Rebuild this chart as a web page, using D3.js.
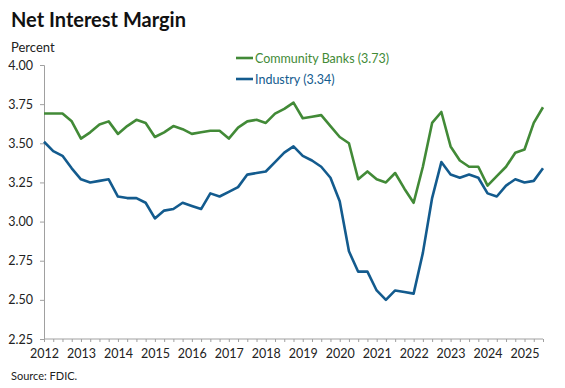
<!DOCTYPE html>
<html><head><meta charset="utf-8">
<script src="https://cdn.jsdelivr.net/npm/d3@7"></script>
<style>
body{margin:0;background:#fff;}
svg{display:block;font-family:Lato,"Noto Sans",sans-serif;}
</style></head>
<body><svg id="c" width="565" height="388"></svg>
<script>
const years = [2012,2013,2014,2015,2016,2017,2018,2019,2020,2021,2022,2023,2024,2025];
const yTicks = [2.25,2.50,2.75,3.00,3.25,3.50,3.75,4.00];
const community = [3.69,3.69,3.69,3.64,3.53,3.57,3.62,3.64,3.56,3.61,3.65,3.63,3.54,3.57,3.61,3.59,
  3.56,3.57,3.58,3.58,3.53,3.60,3.64,3.65,3.63,3.69,3.72,3.76,3.66,3.67,3.68,3.61,
  3.54,3.50,3.27,3.32,3.27,3.25,3.31,3.21,3.12,3.35,3.63,3.70,3.48,3.39,3.35,3.35,
  3.23,3.29,3.35,3.44,3.46,3.63,3.73];
const industry = [3.51,3.45,3.42,3.34,3.27,3.25,3.26,3.27,3.16,3.15,3.15,3.12,3.02,3.07,3.08,3.12,
  3.10,3.08,3.18,3.16,3.19,3.22,3.30,3.31,3.32,3.38,3.44,3.48,3.42,3.39,3.35,3.28,
  3.13,2.81,2.68,2.68,2.56,2.50,2.56,2.55,2.54,2.80,3.15,3.38,3.30,3.28,3.30,3.28,
  3.18,3.16,3.23,3.27,3.25,3.26,3.34];
const seriesNames = ["Community Banks (3.73)","Industry (3.34)"];
const colors = ["#428a37","#135b8e"];

const quarters = [];
years.forEach(y => [1,2,3,4].forEach(q => quarters.push(y + " Q" + q)));
const qs = quarters.slice(0, community.length);

const svg = d3.select("#c");
const L = 44, R = 543, T = 65, B = 339;
const x = d3.scalePoint().domain(qs).range([L, R]);
const y = d3.scaleLinear().domain([2.25, 4.00]).range([B, T]);

svg.append("text").attr("x", 11).attr("y", 27).attr("font-size", 20).attr("font-weight", 700)
  .attr("fill", "#111").text("Net Interest Margin");
svg.append("text").attr("x", 11).attr("y", 52).attr("font-size", 13).attr("fill", "#222").text("Percent");

// y axis
const ya = svg.append("g").attr("transform", `translate(${L},0)`)
  .call(d3.axisLeft(y).tickValues(yTicks).tickFormat(d3.format(".2f")).tickSize(4).tickPadding(7));
ya.select(".domain").attr("stroke", "#a0a0a0");
ya.selectAll(".tick line").attr("stroke", "#a0a0a0");
ya.selectAll(".tick text").attr("font-size", 12.5).attr("fill", "#222").attr("font-family", "Lato,sans-serif");

// x axis
const xa = svg.append("g").attr("transform", `translate(0,${B})`)
  .call(d3.axisBottom(x).tickSize(3).tickFormat(d => d.endsWith("Q1") ? d.slice(0,4) : "").tickPadding(7));
xa.select(".domain").attr("stroke", "#a0a0a0").attr("d", `M${L},0H${R}`);
xa.selectAll(".tick line").attr("stroke", "#a0a0a0");
xa.selectAll(".tick text").attr("font-size", 12.5).attr("fill", "#222").attr("font-family", "Lato,sans-serif");

const line = d3.line().x((d, i) => x(qs[i])).y(d => y(d));
[community, industry].forEach((s, k) => {
  svg.append("path").datum(s).attr("d", line).attr("fill", "none")
    .attr("stroke", colors[k]).attr("stroke-width", 2.6).attr("stroke-linejoin", "round");
});

// legend
seriesNames.forEach((n, k) => {
  const ly = 58 + k * 21;
  svg.append("line").attr("x1", 236).attr("x2", 253).attr("y1", ly).attr("y2", ly)
    .attr("stroke", colors[k]).attr("stroke-width", 2.6);
  svg.append("text").attr("x", 255).attr("y", ly + 4.5).attr("font-size", 12.5)
    .attr("fill", colors[k]).text(n);
});

svg.append("text").attr("x", 11).attr("y", 380).attr("font-size", 11).attr("fill", "#222").text("Source: FDIC.");
</script></body></html>
